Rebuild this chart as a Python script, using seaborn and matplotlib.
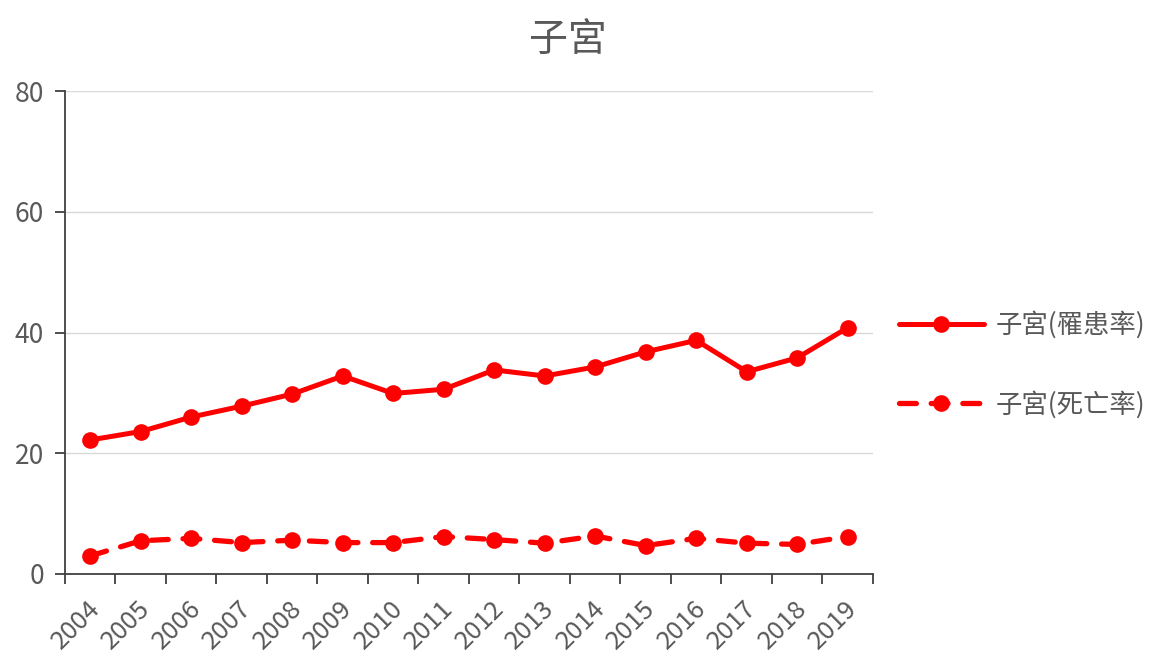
import matplotlib
matplotlib.use("Agg")
import matplotlib.pyplot as plt
import matplotlib.transforms as mtrans
import seaborn as sns
import pandas as pd
import numpy as np

years = list(range(2004, 2020))
incidence = [22.2, 23.6, 26.0, 27.8, 29.8, 32.8, 29.9, 30.6, 33.8, 32.8, 34.3, 36.8, 38.7, 33.5, 35.8, 40.8]
mortality = [3.0, 5.5, 5.9, 5.2, 5.6, 5.2, 5.2, 6.2, 5.7, 5.1, 6.3, 4.7, 5.9, 5.1, 4.9, 6.2]
label_inc = "子宮(罹患率)"
label_mor = "子宮(死亡率)"
title = "子宮"
yticks = [0, 20, 40, 60, 80]

sns.set_theme(style="white")
plt.rcParams['font.family'] = ['Noto Sans CJK TC', 'DejaVu Sans']

red = "#FF0000"
txt = "#595959"
dash = [3.2, 2.8]

df = pd.DataFrame({
    "year": years * 2,
    "value": incidence + mortality,
    "series": [label_inc] * len(years) + [label_mor] * len(years),
})

fig = plt.figure(figsize=(11.54, 6.53), dpi=100)
ax = fig.add_axes([0.0563, 0.121, 0.7002, 0.7396])

sns.lineplot(data=df[df.series == label_inc], x="year", y="value", ax=ax,
             color=red, lw=3.6, marker="o", markersize=12, markeredgewidth=0,
             label=label_inc, solid_capstyle="round")
sns.lineplot(data=df[df.series == label_mor], x="year", y="value", ax=ax,
             color=red, lw=3.8, marker="o", markersize=12, markeredgewidth=0,
             label=label_mor)
lines = ax.get_lines()
lines[1].set_dashes(dash)
lines[1].set_dash_capstyle("round")

ax.set_xlim(2003.5, 2019.5)
ax.set_ylim(0, 80)
ax.set_yticks(yticks)
ax.set_yticklabels([str(v) for v in yticks])
ax.set_xticks(years)
ax.set_xticklabels([str(y) for y in years], rotation=45, ha="right", va="center",
                   rotation_mode="anchor")
ax.set_xticks(np.arange(2003.5, 2020.0, 1.0), minor=True)
ax.tick_params(axis="x", which="major", length=0, pad=22, labelsize=18.5, labelcolor=txt)
ax.tick_params(axis="x", which="minor", length=7, width=1.3, color="#404040", direction="out", bottom=True)
ax.tick_params(axis="y", which="major", length=7, width=1.3, color="#404040", direction="out",
               left=True, labelsize=19, labelcolor=txt, pad=8)
offset = mtrans.ScaledTranslation(6 / 100, 0, fig.dpi_scale_trans)
for lab in ax.get_xticklabels():
    lab.set_transform(lab.get_transform() + offset)

ax.yaxis.grid(True, color="#D9D9D9", lw=1)
ax.xaxis.grid(False)
for s in ["top", "right"]:
    ax.spines[s].set_visible(False)
for s in ["left", "bottom"]:
    ax.spines[s].set_color("#404040")
    ax.spines[s].set_linewidth(1.3)
ax.set_xlabel("")
ax.set_ylabel("")

ax.get_legend().remove()
handles, labels = ax.get_legend_handles_labels()
handles[1].set_dashes(dash)
handles[1].set_dash_capstyle("round")
fig.legend(handles, labels, loc="center left", bbox_to_anchor=(0.7585, 0.441),
           frameon=False, fontsize=19, labelcolor=txt, handlelength=3.2,
           handletextpad=0.45, labelspacing=1.96)

fig.text(0.492, 0.937, title, ha="center", va="center", fontsize=28, color=txt)

fig.savefig("out.png", dpi=100)
